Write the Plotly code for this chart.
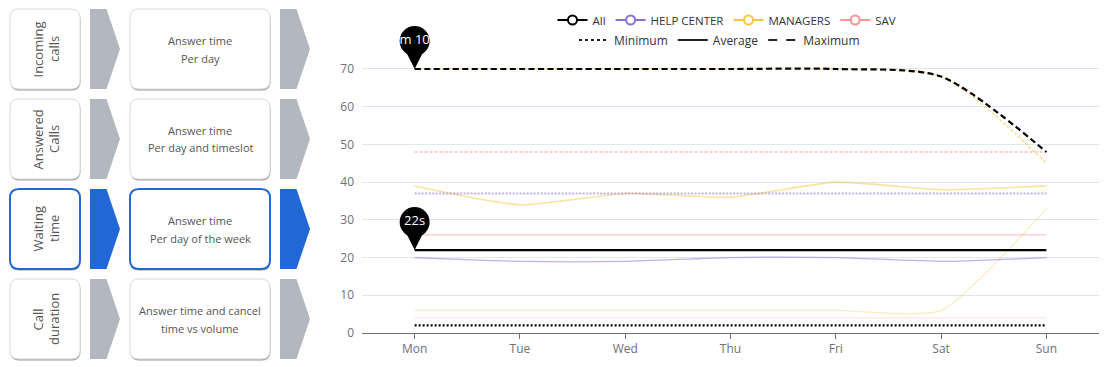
import plotly.graph_objects as go

W, H = 1109, 367

# ---------------- data ----------------
days = ["Mon", "Tue", "Wed", "Thu", "Fri", "Sat", "Sun"]

all_min = [2, 2, 2, 2, 2, 2, 2]
all_avg = [22, 22, 22, 22, 22, 22, 22]
all_max = [70, 70, 70, 70, 70, 68, 48]

help_avg = [20, 19, 19, 20, 20, 19, 20]
help_max = [37, 37, 37, 37, 37, 37, 37]

mgr_min = [6, 6, 6, 6, 6, 6, 33]
mgr_avg = [39, 34, 37, 36, 40, 38, 39]
mgr_max = [70, 70, 70, 70, 70, 68, 45]

sav_min = [4, 4, 4, 4, 4, 4, 4]
sav_avg = [26, 26, 26, 26, 26, 26, 26]
sav_max = [48, 48, 48, 48, 48, 48, 48]

avg_pin_label = "22s"
max_pin_label = "m 10"

y_ticks = [0, 10, 20, 30, 40, 50, 60, 70]

group_names = ["All", "HELP CENTER", "MANAGERS", "SAV"]
stat_names = ["Minimum", "Average", "Maximum"]

left_titles = [("Incoming", "calls"), ("Answered", "Calls"), ("Waiting", "time"), ("Call", "duration")]
left_descs = [("Answer time", "Per day"), ("Answer time", "Per day and timeslot"),
              ("Answer time", "Per day of the week"), ("Answer time and cancel", "time vs volume")]
selected_row = 2

# ---------------- geometry / style ----------------
PL, PR, PT, PB = 362, 1099, 69, 333
Y_TOP_TICK = 70
ppu = (PB - PT) / Y_TOP_TICK       # pixels per unit
Y_RANGE_MAX = 80                   # extra headroom so the pins are inside the range
PT_EXT = PB - Y_RANGE_MAX * ppu

FONT = "Open Sans"
C_ALL = "#000000"
C_HELP = "#8a6fd8"
C_MGR = "#f5c542"
C_SAV = "#ff9191"
BLUE = "#2168d6"
GREY_ARROW = "#b2b7c0"


def X(px):
    return px / W


def Y(py):
    return 1 - py / H


def rrect(x0, y0, x1, y1, r):
    return (f"M {X(x0 + r)},{Y(y0)} L {X(x1 - r)},{Y(y0)} Q {X(x1)},{Y(y0)} {X(x1)},{Y(y0 + r)} "
            f"L {X(x1)},{Y(y1 - r)} Q {X(x1)},{Y(y1)} {X(x1 - r)},{Y(y1)} "
            f"L {X(x0 + r)},{Y(y1)} Q {X(x0)},{Y(y1)} {X(x0)},{Y(y1 - r)} "
            f"L {X(x0)},{Y(y0 + r)} Q {X(x0)},{Y(y0)} {X(x0 + r)},{Y(y0)} Z")


def chevron(x0, y0, x1, y1, notch):
    ym = (y0 + y1) / 2
    return (f"M {X(x0)},{Y(y0)} L {X(x1 - notch)},{Y(y0)} L {X(x1)},{Y(ym)} "
            f"L {X(x1 - notch)},{Y(y1)} L {X(x0)},{Y(y1)} Z")


def rgba(hexc, a):
    h = hexc.lstrip("#")
    return f"rgba({int(h[0:2],16)},{int(h[2:4],16)},{int(h[4:6],16)},{a})"


fig = go.Figure()


def line(y, color, width, dash="solid", shape="spline", smoothing=0.55):
    fig.add_trace(go.Scatter(x=days, y=y, mode="lines", showlegend=False, hoverinfo="skip",
                             line=dict(color=color, width=width, dash=dash, shape=shape, smoothing=smoothing)))


# faint series first
line(sav_min, rgba(C_SAV, 0.25), 1.2, shape="linear")
line(mgr_min, rgba(C_MGR, 0.35), 1.2)
line(help_avg, rgba(C_HELP, 0.55), 1.3)
line(sav_avg, rgba(C_SAV, 0.5), 1.2, shape="linear")
line(mgr_avg, rgba(C_MGR, 0.5), 1.6)
line(help_max, rgba(C_HELP, 0.55), 2, dash="2px,1.5px", shape="linear")
line(sav_max, rgba(C_SAV, 0.6), 1.3, dash="3px,2px", shape="linear")
line(mgr_max, rgba(C_MGR, 0.6), 1.5, dash="3px,2px", smoothing=0.75)

# highlighted "All" series
line(all_min, C_ALL, 2.2, dash="2px,2px", shape="linear")
line(all_avg, C_ALL, 2.2, shape="linear")
line(all_max, C_ALL, 2.2, dash="6px,3.5px", smoothing=0.75)

# mark-point pins (tip at the data point)
for val, lab in [(all_avg[0], avg_pin_label), (all_max[0], max_pin_label)]:
    fig.add_trace(go.Scatter(x=[days[0]], y=[val + 21 / ppu], mode="markers", showlegend=False,
                             hoverinfo="skip", cliponaxis=False,
                             marker=dict(symbol="diamond-tall", size=30, color="#000", line=dict(width=0))))
    fig.add_trace(go.Scatter(x=[days[0]], y=[val + 28 / ppu], mode="markers+text", showlegend=False,
                             hoverinfo="skip", cliponaxis=False, text=[lab], textposition="middle center",
                             textfont=dict(color="white", size=13, family=FONT),
                             marker=dict(symbol="circle", size=30, color="#000", line=dict(width=0))))

# legend entries
for name, col in zip(group_names, [C_ALL, C_HELP, C_MGR, C_SAV]):
    fig.add_trace(go.Scatter(x=[None], y=[None], mode="lines+markers", name=name, legend="legend",
                             line=dict(color=col, width=2),
                             marker=dict(symbol="circle", size=9, color="white", line=dict(color=col, width=2))))
for name, dash in zip(stat_names, ["dot", "solid", "dash"]):
    fig.add_trace(go.Scatter(x=[None], y=[None], mode="lines", name=name, legend="legend2",
                             line=dict(color="#222", width=2, dash=dash)))

# ---------------- left panel ----------------
shapes = []
annotations = []
for i in range(4):
    y0 = 9 + 90 * i
    y1 = y0 + 80
    sel = (i == selected_row)
    for (cx0, cx1) in [(10, 80), (130, 270)]:
        shapes.append(dict(type="path", xref="paper", yref="paper", path=rrect(cx0, y0 + 2, cx1 + 1, y1 + 2, 9),
                           fillcolor="rgba(0,0,0,0.06)", line=dict(width=0)))
        shapes.append(dict(type="path", xref="paper", yref="paper", path=rrect(cx0 + 0.5, y0 + 1, cx1 + 0.5, y1 + 1.5, 9),
                           fillcolor="rgba(90,70,70,0.45)", line=dict(width=0)))
        shapes.append(dict(type="path", xref="paper", yref="paper", path=rrect(cx0, y0, cx1, y1, 9),
                           fillcolor="white",
                           line=dict(color=BLUE if sel else "#dcdcdc", width=2 if sel else 1)))
    for (ax0, ax1) in [(90, 120), (280, 310)]:
        shapes.append(dict(type="path", xref="paper", yref="paper", path=chevron(ax0, y0, ax1, y1, 13.5),
                           fillcolor=BLUE if sel else GREY_ARROW, line=dict(width=0)))
    t1, t2 = left_titles[i]
    for txt, cx in [(t1, 37.5), (t2, 54)]:
        annotations.append(dict(xref="paper", yref="paper", x=X(cx), y=Y(y0 + 40), text=txt, showarrow=False,
                                textangle=-90, xanchor="center", yanchor="middle",
                                font=dict(family=FONT, size=13, color="#555")))
    d1, d2 = left_descs[i]
    for txt, cy in [(d1, y0 + 31), (d2, y0 + 49)]:
        annotations.append(dict(xref="paper", yref="paper", x=X(200), y=Y(cy), text=txt, showarrow=False,
                                xanchor="center", yanchor="middle",
                                font=dict(family=FONT, size=11, color="#555")))

fig.update_layout(
    width=W, height=H,
    margin=dict(l=0, r=0, t=0, b=0, pad=0, autoexpand=False),
    paper_bgcolor="white", plot_bgcolor="white",
    font=dict(family=FONT, size=12, color="#6e7079"),
    shapes=shapes, annotations=annotations,
    hovermode=False,
    xaxis=dict(domain=[X(PL), X(PR)], type="category", categoryorder="array", categoryarray=days,
               range=[-0.5, 6.5], showgrid=False, zeroline=False, showline=True, linecolor="#6e7079",
               linewidth=1, ticks="outside", ticklen=5, tickcolor="#6e7079", automargin=False,
               tickfont=dict(size=12, color="#6e7079", family=FONT), fixedrange=True),
    yaxis=dict(domain=[Y(PB), Y(PT_EXT)], range=[0, Y_RANGE_MAX], tickmode="array", tickvals=y_ticks,
               showgrid=True, gridcolor="#e0e6f1", automargin=False,
               gridwidth=1, zeroline=False, showline=False, ticks="", ticklabelstandoff=7,
               tickfont=dict(size=12, color="#6e7079", family=FONT), fixedrange=True),
    legend=dict(orientation="h", x=X(727), xanchor="center", y=Y(20), yanchor="middle",
                font=dict(size=11.5, color="#333", family=FONT), itemwidth=30, bgcolor="rgba(0,0,0,0)",
                tracegroupgap=0),
    legend2=dict(orientation="h", x=X(719.5), xanchor="center", y=Y(40), yanchor="middle",
                 font=dict(size=12, color="#333", family=FONT), itemwidth=30, bgcolor="rgba(0,0,0,0)"),
)

fig.write_html("out.html", config={"displayModeBar": False},
               post_script="document.body.style.margin='0';document.body.style.overflow='hidden';")
